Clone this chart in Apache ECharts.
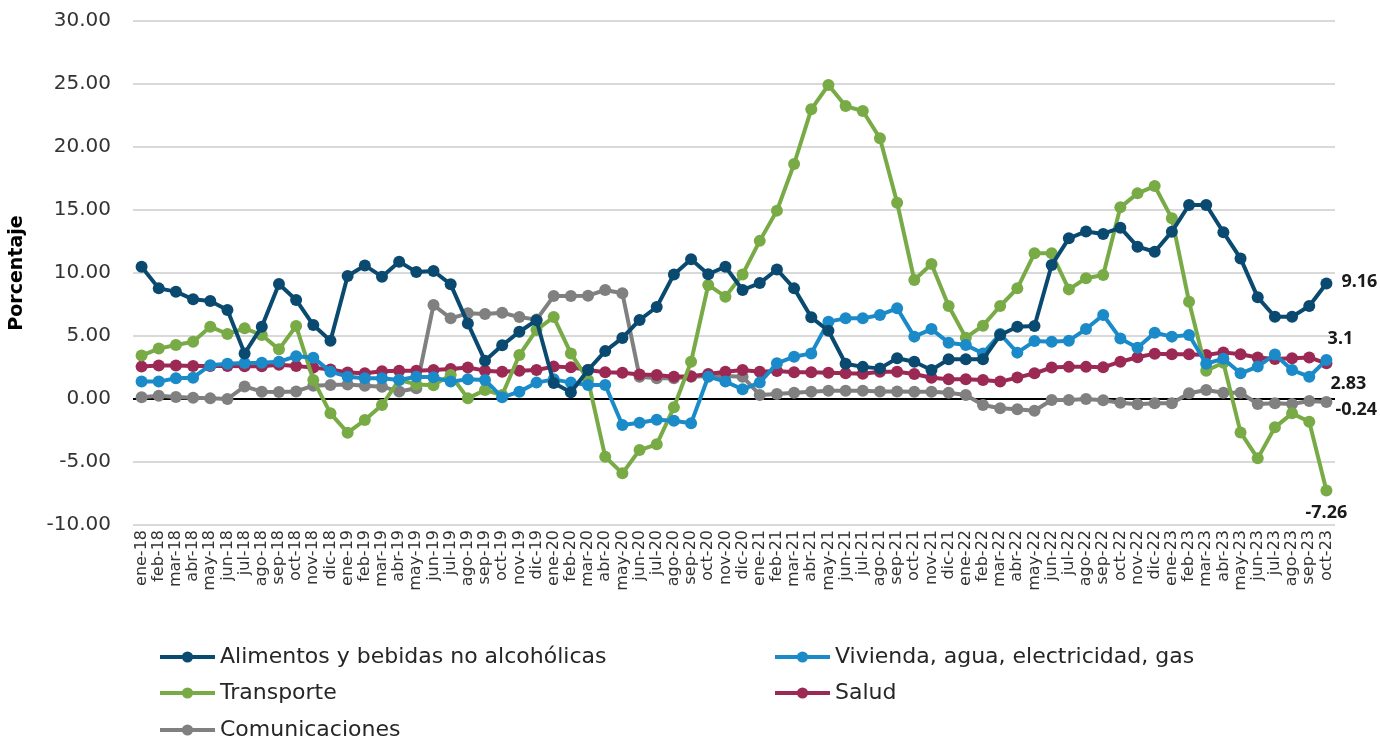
<!DOCTYPE html>
<html>
<head>
<meta charset="utf-8">
<script src="https://cdn.jsdelivr.net/npm/echarts@6/dist/echarts.min.js"></script>
<style>
html,body{margin:0;padding:0;background:#fff;}
#chart{width:1380px;height:740px;}
</style>
</head>
<body>
<div id="chart"></div>
<script>
const months = ["ene","feb","mar","abr","may","jun","jul","ago","sep","oct","nov","dic"];
const categories = [];
for (let y = 18; y <= 23; y++) {
  for (let m = 0; m < 12; m++) {
    if (y === 23 && m > 9) break;
    categories.push(months[m] + "-" + y);
  }
}

const alimentos = [10.5,8.78,8.52,7.91,7.78,7.06,3.62,5.74,9.13,7.86,5.87,4.63,
  9.76,10.6,9.71,10.9,10.08,10.16,9.1,6.0,3.03,4.26,5.34,6.25,
  1.27,0.53,2.3,3.8,4.85,6.27,7.3,9.89,11.1,9.9,10.5,8.65,
  9.2,10.28,8.78,6.48,5.42,2.8,2.55,2.43,3.23,2.96,2.3,3.15,
  3.15,3.15,5.08,5.74,5.79,10.63,12.75,13.3,13.1,13.6,12.09,11.69,
  13.28,15.4,15.4,13.23,11.16,8.07,6.53,6.53,7.38,9.16];

const vivienda = [1.38,1.38,1.65,1.69,2.68,2.8,2.85,2.88,2.95,3.4,3.28,2.17,
  1.77,1.64,1.64,1.51,1.77,1.72,1.38,1.56,1.51,0.13,0.58,1.3,
  1.56,1.3,1.11,1.11,-2.06,-1.88,-1.65,-1.72,-1.93,1.77,1.38,0.77,
  1.3,2.83,3.36,3.62,6.14,6.4,6.4,6.67,7.2,4.95,5.55,4.47,
  4.29,3.62,5.16,3.68,4.6,4.55,4.63,5.55,6.67,4.81,4.07,5.26,
  4.95,5.08,2.8,3.2,2.04,2.57,3.54,2.3,1.77,3.1];

const transporte = [3.45,4.0,4.29,4.55,5.74,5.16,5.61,5.08,3.94,5.79,1.51,-1.14,
  -2.67,-1.67,-0.48,1.51,1.16,1.1,1.9,0.05,0.71,0.32,3.49,5.48,
  6.5,3.62,1.51,-4.58,-5.9,-4.05,-3.6,-0.66,2.96,9.05,8.12,9.89,
  12.55,14.95,18.65,22.99,24.92,23.25,22.86,20.69,15.58,9.44,10.71,7.38,
  4.87,5.82,7.38,8.78,11.56,11.56,8.7,9.58,9.84,15.21,16.32,16.9,
  14.34,7.72,2.25,2.88,-2.65,-4.71,-2.25,-1.14,-1.8,-7.26];

const salud = [2.57,2.65,2.65,2.62,2.62,2.62,2.6,2.6,2.72,2.62,2.49,2.35,
  2.1,2.04,2.2,2.25,2.25,2.3,2.38,2.5,2.25,2.17,2.25,2.3,
  2.57,2.51,2.3,2.12,2.09,1.95,1.9,1.77,1.8,1.98,2.17,2.3,
  2.17,2.22,2.12,2.12,2.08,2.04,2.0,2.17,2.17,1.98,1.69,1.56,
  1.56,1.5,1.38,1.7,2.04,2.5,2.55,2.55,2.51,2.96,3.31,3.6,
  3.55,3.55,3.5,3.7,3.55,3.3,3.17,3.23,3.3,2.83];

const comunicaciones = [0.13,0.25,0.15,0.1,0.05,0.0,1.0,0.58,0.56,0.6,1.06,1.11,
  1.16,1.06,0.98,0.6,0.85,7.46,6.4,6.8,6.75,6.85,6.5,6.3,
  8.17,8.17,8.2,8.65,8.39,1.77,1.64,1.64,1.77,1.83,1.83,1.77,
  0.32,0.4,0.5,0.58,0.66,0.66,0.66,0.6,0.6,0.58,0.58,0.5,
  0.32,-0.48,-0.74,-0.82,-0.93,-0.08,-0.08,0.0,-0.1,-0.29,-0.42,-0.34,
  -0.34,0.45,0.71,0.5,0.5,-0.4,-0.34,-0.4,-0.16,-0.24];

const yTicks = [-10,-5,0,5,10,15,20,25,30];

const seriesNames = ["Alimentos y bebidas no alcohólicas","Vivienda, agua, electricidad, gas","Transporte","Salud","Comunicaciones"];
const seriesColors = ["#0a4a70","#1a8bc8","#78ab46","#9b2953","#808080"];
const seriesData = [alimentos, vivienda, transporte, salud, comunicaciones];
// last-point label placement per series (same order as seriesNames)
const lastLabelCfg = [
  {position:'right', distance:9, offset:[0,-2]},
  {position:'top', distance:6, offset:[14,0]},
  {position:'bottom', distance:7, offset:[0,0]},
  {position:'bottom', distance:6, offset:[22,0]},
  {position:'right', distance:3, offset:[0,8]}
];
// legend placement: [left, centerY]
const legendPlace = [[158,657],[773,657],[158,693],[773,693],[158,730]];

const font = "'DejaVu Sans', sans-serif";

const series = seriesData.map((arr, si) => {
  const cfg = lastLabelCfg[si];
  const data = arr.map((v, i) => {
    if (i === arr.length - 1) {
      return {value: v, label: {show: true, position: cfg.position, distance: cfg.distance, offset: cfg.offset,
        formatter: String(v), fontFamily: "'Noto Sans', sans-serif", fontWeight: 'bold', fontSize: 18, color: '#1a1a1a'}};
    }
    return v;
  });
  const s = {
    name: seriesNames[si],
    type: 'line',
    data: data,
    symbol: 'circle',
    symbolSize: 12,
    showAllSymbol: true,
    lineStyle: {width: 4, color: seriesColors[si]},
    itemStyle: {color: seriesColors[si]},
    emphasis: {disabled: true},
    z: 10 - si
  };
  if (si === 0) {
    s.markLine = {
      silent: true, symbol: 'none', animation: false,
      label: {show: false},
      lineStyle: {color: '#000', width: 2, type: 'solid'},
      data: [{yAxis: 0}],
      z: 1
    };
  }
  return s;
});

const legends = seriesNames.map((n, i) => ({
  data: [n],
  orient: 'horizontal',
  left: legendPlace[i][0],
  top: legendPlace[i][1] - 13,
  itemWidth: 55, itemHeight: 14, itemGap: 0,
  padding: 0,
  lineStyle: {width: 4},
  textStyle: {fontFamily: font, fontSize: 22, color: '#262626', lineHeight: 26, padding: [0,0,0,0]},
  selectedMode: false
}));

const chart = echarts.init(document.getElementById('chart'));
chart.setOption({
  animation: false,
  backgroundColor: '#fff',
  grid: {left: 126, right: 45, top: 21, bottom: 215, containLabel: false},
  xAxis: {
    type: 'category',
    data: categories,
    boundaryGap: true,
    axisLine: {show: false, onZero: false},
    axisTick: {show: false},
    axisLabel: {interval: 0, rotate: 90, fontFamily: font, fontSize: 16, color: '#333', margin: 5},
    splitLine: {show: false}
  },
  yAxis: {
    type: 'value',
    min: yTicks[0], max: yTicks[yTicks.length - 1], interval: 5,
    axisLine: {show: false},
    axisTick: {show: false},
    axisLabel: {formatter: v => v.toFixed(2), fontFamily: font, fontSize: 20, color: '#333', margin: 22},
    splitLine: {lineStyle: {color: '#d9d9d9', width: 2}},
    name: 'Porcentaje',
    nameLocation: 'middle',
    nameRotate: 90,
    nameGap: 106,
    nameTextStyle: {fontFamily: font, fontWeight: 'bold', fontSize: 19, color: '#000'}
  },
  legend: legends,
  series: series
});
</script>
</body>
</html>
